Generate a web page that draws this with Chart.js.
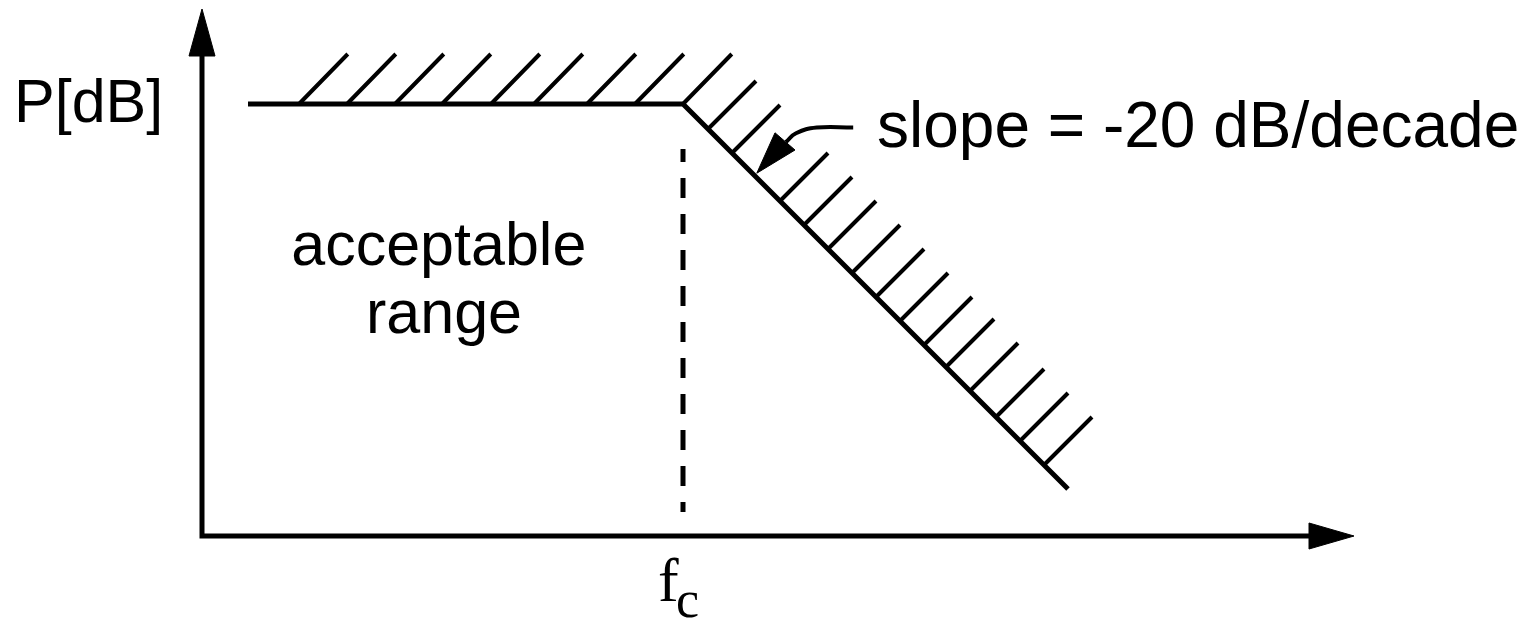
<!DOCTYPE html>
<html>
<head>
<meta charset="utf-8">
<script src="https://cdn.jsdelivr.net/npm/chart.js@4/dist/chart.umd.min.js"></script>
<style>
  html, body { margin: 0; padding: 0; background: #fff; }
  #wrap { width: 1532px; height: 620px; position: relative; }
</style>
</head>
<body>
<div id="wrap"><canvas id="myChart"></canvas></div>
<script>
// 축 범위 (1 단위 = 40px, 원점은 두 축이 만나는 곳)
const xRange = [-5.05, 33.25];
const yRange = [-2.1, 13.4];

// 허용 한계선: 평탄 구간 후 fc 에서 -20 dB/decade 로 감소
const limitX = [1.15, 12.025, 21.65];
const limitY = [10.8, 10.8, 1.175];

// 빗금 위치 (한계선 위의 시작점)
const flatHatchX = [2.425, 3.625, 4.825, 6.0, 7.225, 8.3, 9.625, 10.825, 12.025];
const slopeHatchX = [12.65, 13.25, 14.45, 15.05, 15.65, 16.25, 16.85, 17.45, 18.05, 18.6, 19.2, 19.85, 20.45, 21.05];

// 축과 화살표
const axisX = [0, 0, 27.7];
const axisY = [12.05, 0, 0];
const upArrowX = [-0.325, 0, 0.325, -0.325];
const upArrowY = [12.0, 13.175, 12.0, 12.0];
const rightArrowX = [27.675, 28.8, 27.675, 27.675];
const rightArrowY = [0.325, 0, -0.325, 0.325];

// fc 점선
const cutoffX = [12.025, 12.025];
const cutoffY = [9.675, 0.6];

// 기울기 설명 화살표
const noteCurveX = [16.28, 15.37, 14.85, 14.6];
const noteCurveY = [10.21, 10.21, 10.07, 9.85];
const noteHeadX = [13.87, 14.325, 14.825, 13.87];
const noteHeadY = [9.07, 10.08, 9.65, 9.07];

// 글자
const labelText = ['P[dB]', 'slope = -20 dB/decade', 'acceptable', 'range'];
const labelX = [-4.7, 16.875, 5.92, 6.05];
const labelY = [10.35, 9.725, 6.775, 5.075];
const labelSize = [61, 64, 61, 61];
const labelAlign = ['left', 'left', 'center', 'center'];

const toPoints = (xs, ys) => xs.map((x, i) => ({ x: x, y: ys[i] }));

// 빗금 선분들을 null 로 끊어서 하나의 데이터셋으로
function hatchPoints() {
    let pts = [];
    flatHatchX.forEach(x => {
        pts.push({ x: x, y: limitY[0] });
        pts.push({ x: x + 1.22, y: limitY[0] + 1.25 });
        pts.push({ x: x, y: null });
    });
    const slope = (limitY[2] - limitY[1]) / (limitX[2] - limitX[1]);
    slopeHatchX.forEach(x => {
        let y = limitY[1] + (x - limitX[1]) * slope;
        pts.push({ x: x, y: y });
        pts.push({ x: x + 1.2, y: y + 1.2 });
        pts.push({ x: x, y: null });
    });
    return pts;
}

// 글자 그리기 플러그인
const textPlugin = {
    id: 'labels',
    afterDraw(chart) {
        const ctx = chart.ctx;
        const xs = chart.scales.x, ys = chart.scales.y;
        ctx.save();
        ctx.fillStyle = '#000';
        ctx.textBaseline = 'alphabetic';
        labelText.forEach((t, i) => {
            ctx.font = labelSize[i] + 'px "Liberation Sans", Arial, sans-serif';
            ctx.textAlign = labelAlign[i];
            ctx.fillText(t, xs.getPixelForValue(labelX[i]), ys.getPixelForValue(labelY[i]));
        });
        // f_c
        ctx.textAlign = 'left';
        ctx.font = '62px "Liberation Serif", "Times New Roman", serif';
        ctx.fillText('f', xs.getPixelForValue(11.4), ys.getPixelForValue(-1.625));
        ctx.font = '52px "Liberation Serif", "Times New Roman", serif';
        ctx.fillText('c', xs.getPixelForValue(11.85), ys.getPixelForValue(-2.025));
        ctx.restore();
    }
};

const line = (data, width, extra) => Object.assign({
    data: data,
    borderColor: '#000',
    borderWidth: width,
    pointRadius: 0,
    fill: false,
    tension: 0,
    spanGaps: false
}, extra || {});

const ctx = document.getElementById('myChart').getContext('2d');
const myChart = new Chart(ctx, {
    type: 'line',
    data: {
        datasets: [
            line(toPoints(axisX, axisY), 5, { borderJoinStyle: 'miter' }),
            line(toPoints(upArrowX, upArrowY), 1, { fill: 'shape', backgroundColor: '#000' }),
            line(toPoints(rightArrowX, rightArrowY), 1, { fill: 'shape', backgroundColor: '#000' }),
            line(toPoints(limitX, limitY), 5, { borderJoinStyle: 'miter' }),
            line(hatchPoints(), 4),
            line(toPoints(cutoffX, cutoffY), 5, { borderDash: [20, 16], borderDashOffset: 7 }),
            line(toPoints(noteCurveX, noteCurveY), 4, { tension: 0.45 }),
            line(toPoints(noteHeadX, noteHeadY), 1, { fill: 'shape', backgroundColor: '#000' })
        ]
    },
    options: {
        responsive: true,
        maintainAspectRatio: false,
        animation: false,
        layout: { padding: 0 },
        plugins: { legend: { display: false }, tooltip: { enabled: false } },
        scales: {
            x: { type: 'linear', min: xRange[0], max: xRange[1], display: false },
            y: { type: 'linear', min: yRange[0], max: yRange[1], display: false }
        }
    },
    plugins: [textPlugin]
});
</script>
</body>
</html>
